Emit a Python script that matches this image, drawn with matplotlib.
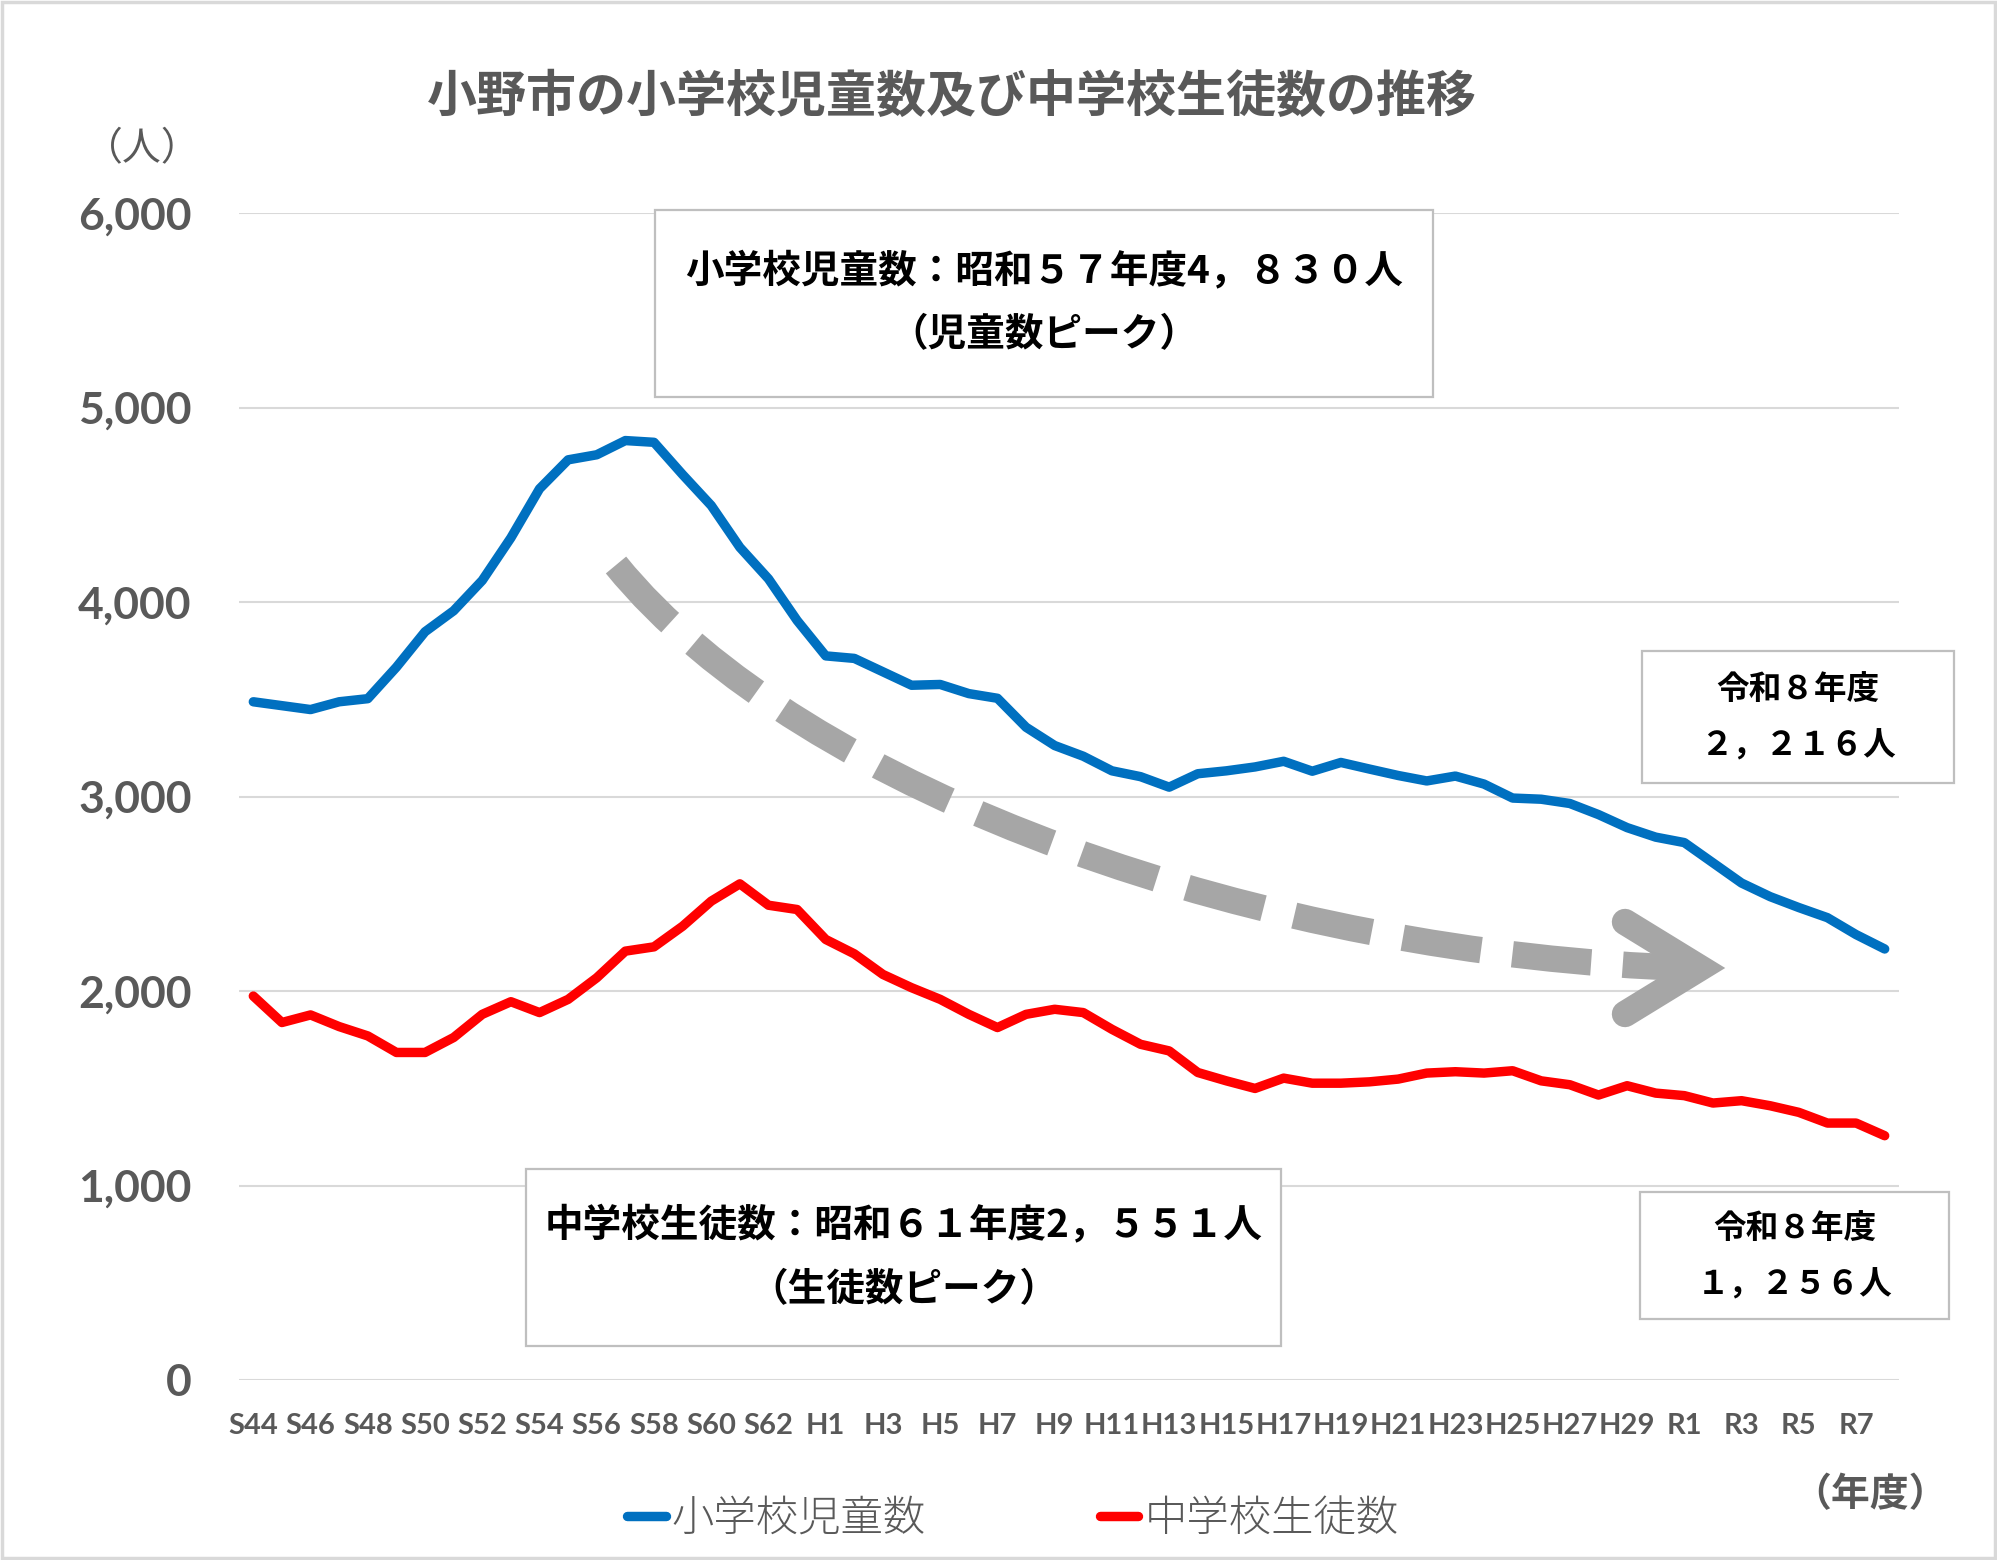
import matplotlib
matplotlib.use("Agg")
import matplotlib.pyplot as plt
from matplotlib.patches import Rectangle, PathPatch
from matplotlib.path import Path
from matplotlib.lines import Line2D

# ---------------- data ----------------
years = ["S44", "S45", "S46", "S47", "S48", "S49", "S50", "S51", "S52", "S53",
         "S54", "S55", "S56", "S57", "S58", "S59", "S60", "S61", "S62", "S63",
         "H1", "H2", "H3", "H4", "H5", "H6", "H7", "H8", "H9", "H10",
         "H11", "H12", "H13", "H14", "H15", "H16", "H17", "H18", "H19", "H20",
         "H21", "H22", "H23", "H24", "H25", "H26", "H27", "H28", "H29", "H30",
         "R1", "R2", "R3", "R4", "R5", "R6", "R7", "R8"]

elementary = [3487, 3467, 3447, 3487, 3503, 3665, 3847, 3955, 4111, 4330,
              4582, 4731, 4757, 4830, 4821, 4655, 4496, 4281, 4119, 3905,
              3723, 3710, 3641, 3572, 3576, 3529, 3505, 3356, 3262, 3207,
              3132, 3102, 3048, 3117, 3132, 3152, 3181, 3130, 3175, 3141,
              3108, 3080, 3105, 3064, 2992, 2986, 2964, 2907, 2840, 2791,
              2763, 2659, 2555, 2485, 2429, 2377, 2290, 2216]

junior = [1974, 1838, 1877, 1817, 1769, 1684, 1684, 1761, 1880, 1945,
          1889, 1957, 2068, 2205, 2227, 2333, 2462, 2551, 2441, 2419,
          2265, 2191, 2085, 2017, 1957, 1880, 1812, 1880, 1906, 1889,
          1803, 1726, 1692, 1581, 1538, 1499, 1552, 1526, 1526, 1533,
          1547, 1578, 1585, 1578, 1590, 1538, 1518, 1465, 1513, 1475,
          1462, 1424, 1436, 1410, 1376, 1321, 1321, 1256]

series_names = ["小学校児童数", "中学校生徒数"]
y_ticks = [0, 1000, 2000, 3000, 4000, 5000, 6000]
y_tick_labels = ["0", "1,000", "2,000", "3,000", "4,000", "5,000", "6,000"]

title = "小野市の小学校児童数及び中学校生徒数の推移"
note_elem = ["小学校児童数：昭和５７年度4，８３０人", "（児童数ピーク）"]
note_jr = ["中学校生徒数：昭和６１年度2，５５１人", "（生徒数ピーク）"]
note_elem_end = ["令和８年度", "２，２１６人"]
note_jr_end = ["令和８年度", "１，２５６人"]

# ---------------- styling ----------------
W, H = 1997, 1560
CJK = ["Noto Sans CJK JP", "DejaVu Sans"]
NUM = ["Lato", "DejaVu Sans"]
GRAY = "#595959"
BLUE = "#0070C0"
RED = "#FF0000"
ARROW = "#A6A6A6"

plt.rcParams["font.family"] = CJK


def P(x, y):
    return (x / W, 1 - y / H)


fig = plt.figure(figsize=(W / 100, H / 100), dpi=100)
fig.patch.set_facecolor("white")

left, right, top, bottom = 239, 1899, 213, 1380
ax = fig.add_axes([left / W, 1 - bottom / H, (right - left) / W, (bottom - top) / H])

x = list(range(len(years)))
l1, = ax.plot(x, elementary, color=BLUE, lw=6.8, solid_capstyle="round",
              solid_joinstyle="round", zorder=3)
l2, = ax.plot(x, junior, color=RED, lw=6.8, solid_capstyle="round",
              solid_joinstyle="round", zorder=3)

ax.set_xlim(-0.5, len(years) - 0.5)
ax.set_ylim(0, 6000)
ax.set_yticks(y_ticks)
ax.set_yticklabels(y_tick_labels, fontfamily=NUM, fontweight="bold",
                   fontsize=32, color=GRAY)
ax.set_xticks(x[::2])
ax.set_xticklabels(years[::2], fontfamily=NUM, fontweight="bold",
                   fontsize=21, color=GRAY)
ax.tick_params(axis="y", length=0, pad=34)
ax.tick_params(axis="x", length=0, pad=24)
ax.grid(axis="y", color="#D9D9D9", lw=1.5, zorder=0)
ax.set_axisbelow(True)
for s in ax.spines.values():
    s.set_visible(False)

# title and unit labels
fig.text(*P(952, 97), title, ha="center", va="center", fontsize=36,
         fontweight="bold", color=GRAY)
fig.text(*P(142, 149), "（人）", ha="center", va="center", fontsize=28,
         color=GRAY)
fig.text(*P(1870, 1495), "（年度）", ha="center", va="center", fontsize=28,
         fontweight="bold", color=GRAY)

# annotation boxes
def box(x0, y0, x1, y1, lines, ys, cx, size):
    r = Rectangle(P(x0, y1), (x1 - x0) / W, (y1 - y0) / H,
                  transform=fig.transFigure, facecolor="white",
                  edgecolor="#BFBFBF", lw=1.6, zorder=5)
    fig.add_artist(r)
    for t, yy in zip(lines, ys):
        fig.text(*P(cx, yy), t, ha="center", va="center", fontsize=size,
                 fontweight="bold", color="black", zorder=6)


box(655, 210, 1433, 397, note_elem, [272, 335], 1044, 27.8)
box(526, 1169, 1281, 1346, note_jr, [1226, 1290], 904, 27.8)
box(1642, 651, 1954, 783, note_elem_end, [690, 746], 1798, 23.5)
box(1640, 1192, 1949, 1319, note_jr_end, [1229, 1285], 1795, 23.5)

# dashed trend arrow (decoration)
verts = [P(616, 565), P(804, 796), P(1270, 955), P(1690, 968)]
path = Path(verts, [Path.MOVETO, Path.CURVE4, Path.CURVE4, Path.CURVE4])
fig.add_artist(PathPatch(path, transform=fig.transFigure, fill=False,
                         edgecolor=ARROW, lw=19, linestyle=(0, (3, 1.2)),
                         capstyle="butt", zorder=2))
hx = [P(1625, 922)[0], P(1700, 968)[0], P(1625, 1014)[0]]
hy = [P(1625, 922)[1], P(1700, 968)[1], P(1625, 1014)[1]]
fig.add_artist(Line2D(hx, hy, transform=fig.transFigure, color=ARROW, lw=19,
                      solid_capstyle="round", solid_joinstyle="miter",
                      zorder=2))

# legend
leg = fig.legend([l1, l2], series_names, loc="center",
                 bbox_to_anchor=P(1013, 1519), ncol=2, frameon=False,
                 handlelength=0.9, handletextpad=0.15, columnspacing=4.1,
                 prop=dict(family=CJK, size=30.5, weight="light"))
for t in leg.get_texts():
    t.set_color(GRAY)

# outer chart border
fig.add_artist(Rectangle((0.001, 0.001), 0.998, 0.998, transform=fig.transFigure,
                         fill=False, edgecolor="#D9D9D9", lw=2.5))

fig.savefig("out.png", dpi=100, facecolor="white")
